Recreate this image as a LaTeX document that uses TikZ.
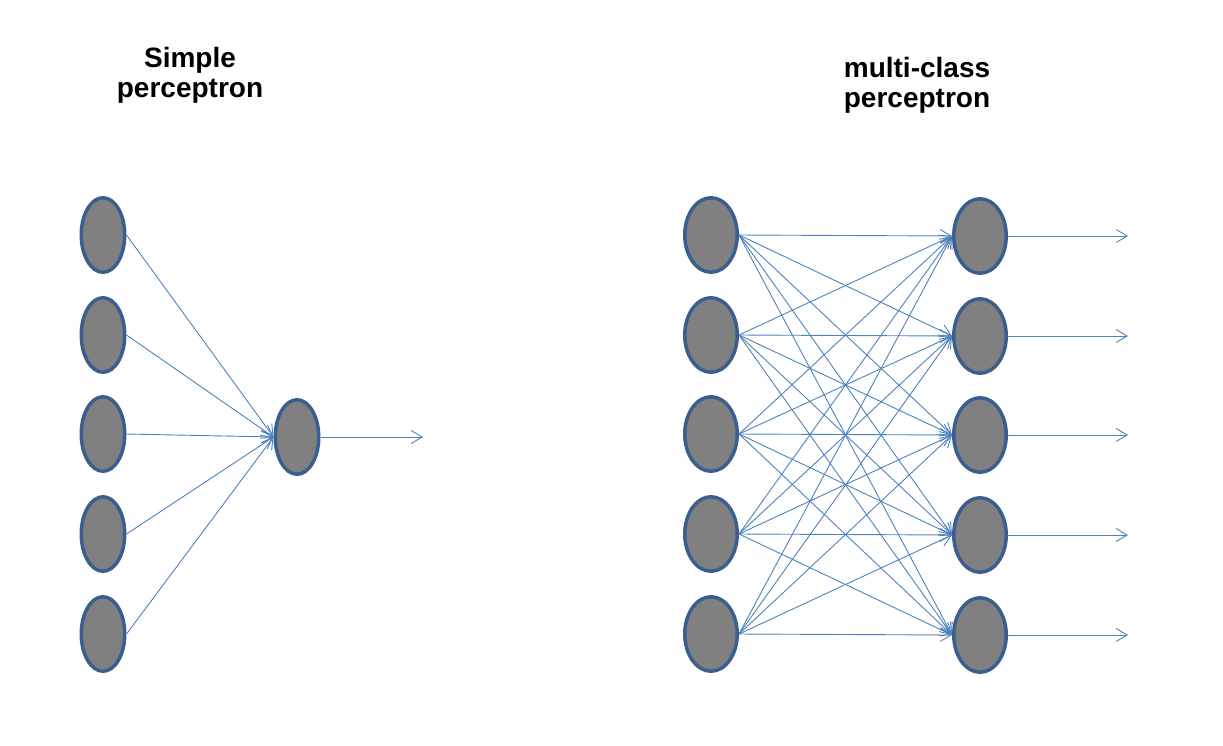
\documentclass[tikz,border=0pt]{standalone}
\usepackage{fontspec}
\setmainfont{Liberation Sans}
\usetikzlibrary{arrows.meta,shapes.geometric}
\definecolor{rimblue}{HTML}{3A5F8E}
\definecolor{cellgray}{HTML}{808080}
\definecolor{wireblue}{HTML}{4F81BD}

\begin{document}
\begin{tikzpicture}[x=1pt, y=-1pt,
  neuron/.style={ellipse, draw=rimblue, fill=cellgray, line width=3.5pt,
    minimum width=43.5pt, minimum height=74.5pt, inner sep=0pt},
  wideneuron/.style={neuron, minimum width=52.5pt},
  title/.style={font=\fontsize{28}{30}\selectfont\bfseries, align=center,
    inner sep=0pt, anchor=north},
  wire/.style={draw=wireblue, line width=0.9pt,
    -{Straight Barb[length=11pt,width=13pt]}}]
  \useasboundingbox (0,0) rectangle (1223,745);
  % titles
  \node[title] (simpletitle) at (190,47) {Simple\\perceptron};
  \node[title] (multititle) at (917,57) {multi-class\\perceptron};
  % simple perceptron
  \foreach \i/\y in {1/235,2/335,3/434,4/534,5/634}
    \node[neuron] (in\i) at (103,\y) {};
  \node[neuron] (sum) at (297,437) {};
  \coordinate (sumend) at (423,437);
  \foreach \i in {1,...,5}
    \draw[wire] (in\i.east) -- (sum.west);
  \draw[wire] (sum.east) -- (sumend);
  % multi-class perceptron
  \foreach \i/\y in {1/235,2/335,3/434,4/534,5/634}{
    \node[wideneuron] (x\i) at (711,\y) {};
    \node[wideneuron] (y\i) at (980,\y+1) {};
    \coordinate (yend\i) at (1128,\y+1);
  }
  \foreach \i in {1,...,5}
    \foreach \j in {1,...,5}
      \draw[wire] (x\i.east) -- (y\j.west);
  \foreach \j in {1,...,5}
    \draw[wire] (y\j.east) -- (yend\j);
\end{tikzpicture}
\end{document}
